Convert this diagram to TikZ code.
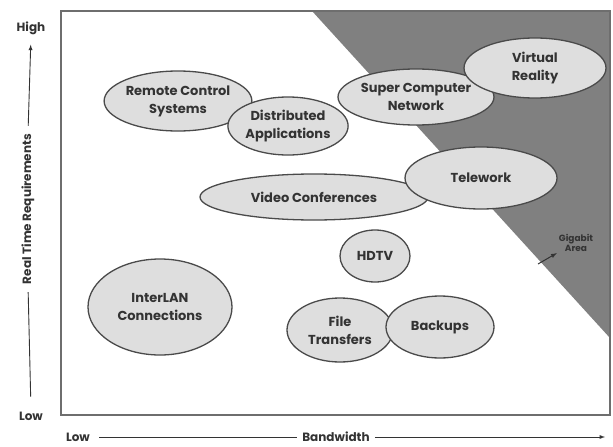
\documentclass[tikz,border=0pt]{standalone}
\usepackage{fontspec}
\setmainfont{Poppins}
\usetikzlibrary{shapes.geometric}

\definecolor{gigagray}{HTML}{808080}
\definecolor{bubblefill}{HTML}{DEDEDE}
\definecolor{bubbleline}{HTML}{4A4A4A}
\definecolor{framegray}{HTML}{6E6E6E}
\definecolor{textgray}{HTML}{333333}

\tikzset{
  bubble/.style={ellipse, draw=bubbleline, fill=bubblefill, line width=1.3pt,
    inner sep=0pt, align=center, text=textgray,
    font=\fontsize{13}{18}\selectfont\bfseries},
  axislabel/.style={text=textgray, inner sep=1pt, font=\fontsize{12}{13}\selectfont\bfseries},
  axisline/.style={textgray, line width=0.9pt}
}

\begin{document}
\begin{tikzpicture}[x=1pt, y=-1pt]
	\useasboundingbox (0,0) rectangle (613,447);
	% gigabit area
	\fill[gigagray] (312,11) -- (610,11) -- (610,338) -- cycle;
	\draw[framegray, line width=2.5pt] (61,11) rectangle (610,415);
	% applications
	\node[bubble, minimum width=144, minimum height=60] (remote) at (178,101) {Remote Control\\Systems};
	\node[bubble, minimum width=114, minimum height=58] (distrib) at (288,126) {Distributed\\Applications};
	\node[bubble, minimum width=142, minimum height=56] (super) at (416,97) {Super Computer\\Network};
	\node[bubble, minimum width=142, minimum height=60] (virtual) at (535,68) {Virtual\\Reality};
	\node[bubble, minimum width=228, minimum height=46] (video) at (314,197) {Video Conferences};
	\node[bubble, minimum width=152, minimum height=62] (telework) at (481,178) {Telework};
	\node[bubble, minimum width=70, minimum height=52] (hdtv) at (375,256) {HDTV};
	\node[bubble, minimum width=106, minimum height=64] (files) at (340,330) {File\\Transfers};
	\node[bubble, minimum width=108, minimum height=62] (backups) at (440,327) {Backups};
	\node[bubble, minimum width=144, minimum height=96] (interlan) at (160,307) {InterLAN\\Connections};
	% gigabit label
	\node[text=textgray, align=center, inner sep=1pt, font=\fontsize{9}{9.5}\selectfont\bfseries] (gigabit) at (576,243) {Gigabit\\Area};
	\coordinate (gigtail) at (538,264);
	\draw[-latex, textgray, line width=1pt, shorten >=1pt] (gigtail) -- (gigabit.south west);
	% axes
	\node[axislabel] (yhigh) at (31,28) {High};
	\node[axislabel] (ylow) at (31,416) {Low};
	\node[axislabel, rotate=90] (ylabel) at (28,209) {Real Time Requirements};
	\draw[axisline, shorten <=14pt, shorten >=7pt] (ylow.north) -- (ylabel.west);
	\draw[axisline, -latex, shorten <=7pt, shorten >=9pt] (ylabel.east) -- (yhigh.south);
	\node[axislabel] (xlow) at (78,437) {Low};
	\node[axislabel] (xlabel) at (336,437) {Bandwidth};
	\coordinate (xend) at (605,437);
	\draw[axisline, shorten <=8pt, shorten >=4pt] (xlow.east) -- (xlabel.west);
	\draw[axisline, -latex, shorten <=4pt] (xlabel.east) -- (xend);
\end{tikzpicture}
\end{document}
